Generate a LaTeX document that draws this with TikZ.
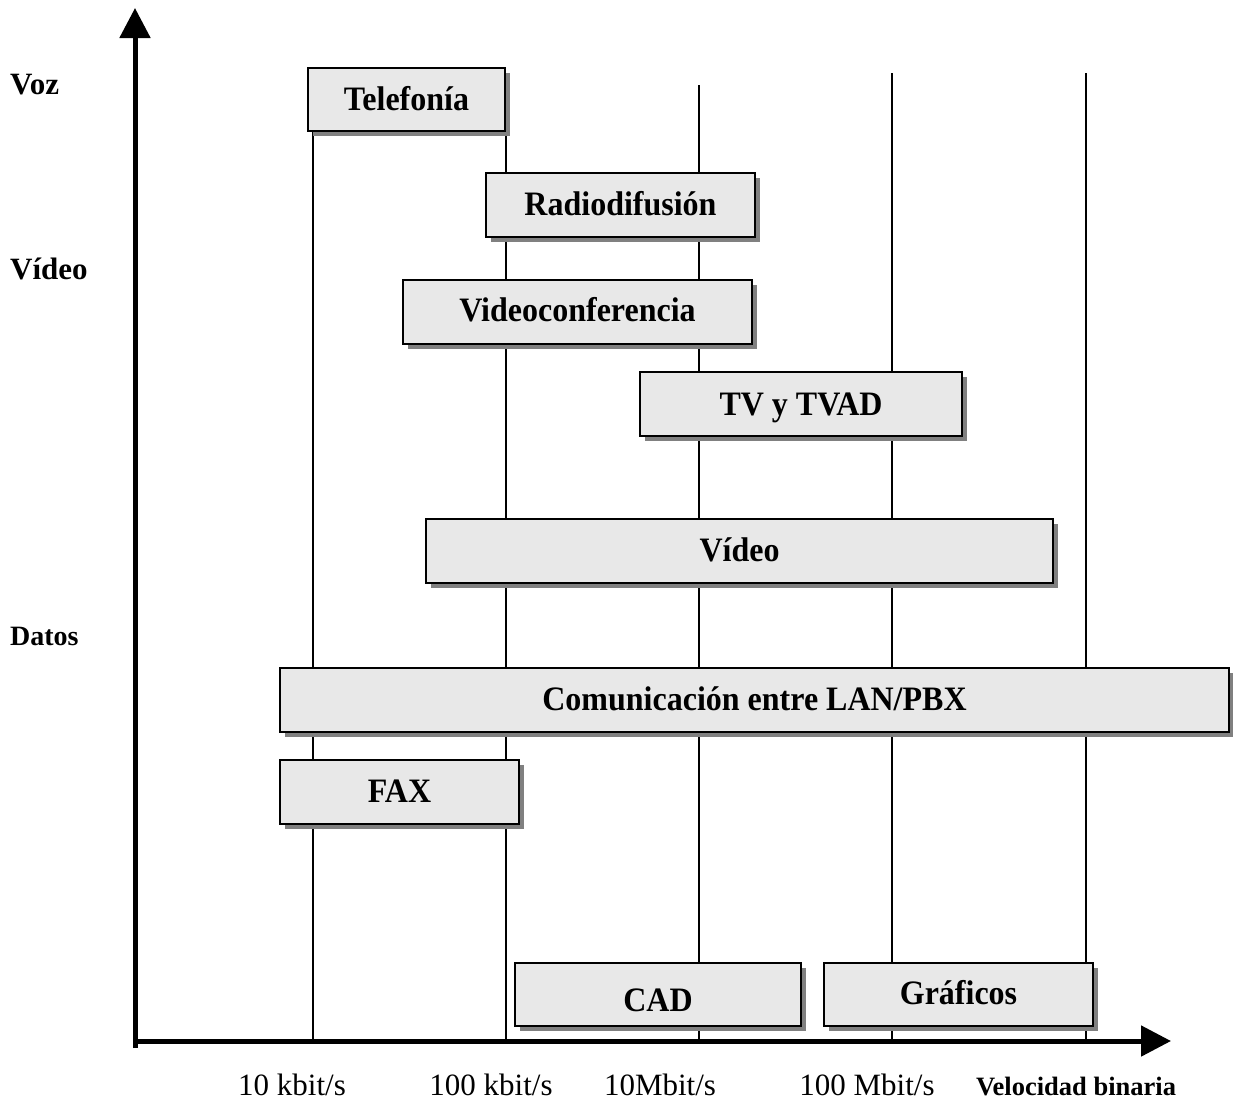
\documentclass[tikz,border=0pt]{standalone}
\usepackage{fontspec}
\setmainfont{Liberation Serif}
\usetikzlibrary{arrows.meta,shadows}
\definecolor{boxfill}{HTML}{E8E8E8}
\definecolor{shadowgray}{HTML}{808080}
\newcommand\boxtext[1]{\scalebox{1}[1.07]{\fontsize{32}{36}\selectfont\bfseries #1}}
\tikzset{
  grid line/.style={line width=1.5pt, black},
  axis/.style={line width=5pt, -{Triangle[length=30pt,width=30pt]}},
  band/.style={draw=black, line width=2pt, fill=boxfill, inner sep=0pt,
    minimum height=63pt,
    drop shadow={shadow xshift=5pt, shadow yshift=-5pt, opacity=1, fill=shadowgray}},
  bandlabel/.style={inner sep=0pt, anchor=center},
  classlabel/.style={inner sep=0pt, anchor=west, font=\fontsize{31}{36}\selectfont\bfseries},
  ratelabel/.style={inner sep=0pt, anchor=center, font=\fontsize{31}{36}\selectfont}
}
\begin{document}
\begin{tikzpicture}[x=1pt, y=-1pt]
\useasboundingbox (0,0) rectangle (1233,1100);

% decade grid lines
\draw[grid line] (313,90) -- (313,1040);
\draw[grid line] (506,90) -- (506,1040);
\draw[grid line] (699,85) -- (699,1040);
\draw[grid line] (892,73) -- (892,1040);
\draw[grid line] (1086,73) -- (1086,1040);

% axes
\coordinate (origin) at (135,1048);
\coordinate (ytip) at (135,8);
\coordinate (xstart) at (133,1041);
\coordinate (xtip) at (1171,1041);
\draw[axis] (origin) -- (ytip);
\draw[axis] (xstart) -- (xtip);

% service bands
\node[band, minimum width=197pt] (tel) at (406.5,99.5) {};
\node[bandlabel] (tel-t) at (406.5,99) {\boxtext{Telefonía}};

\node[band, minimum width=269pt, minimum height=64pt] (radio) at (620.5,205) {};
\node[bandlabel] (radio-t) at (620.5,204) {\boxtext{Radiodifusión}};

\node[band, minimum width=349pt, minimum height=64pt] (vconf) at (577.5,312) {};
\node[bandlabel] (vconf-t) at (577.5,310) {\boxtext{Videoconferencia}};

\node[band, minimum width=322pt, minimum height=64pt] (tv) at (801,404) {};
\node[bandlabel] (tv-t) at (801,408) {\boxtext{TV y TVAD}};

\node[band, minimum width=627pt, minimum height=64pt] (video) at (739.5,551) {};
\node[bandlabel] (video-t) at (739.5,550) {\boxtext{Vídeo}};

\node[band, minimum width=949pt, minimum height=64pt] (lan) at (754.5,700) {};
\node[bandlabel] (lan-t) at (754.5,699) {\boxtext{Comunicación entre LAN/PBX}};

\node[band, minimum width=239pt, minimum height=64pt] (fax) at (399.5,792) {};
\node[bandlabel] (fax-t) at (399.5,791) {\boxtext{FAX}};

\node[band, minimum width=286pt] (cad) at (658,994.5) {};
\node[bandlabel] (cad-t) at (658,1000) {\boxtext{CAD}};

\node[band, minimum width=269pt] (graf) at (958.5,994.5) {};
\node[bandlabel] (graf-t) at (958.5,993) {\boxtext{Gráficos}};

% traffic classes
\node[classlabel] (voz) at (10,85) {Voz};
\node[classlabel] (vid) at (10,269) {Vídeo};
\node[classlabel, font=\fontsize{28}{32}\selectfont\bfseries] (datos) at (10,636) {Datos};

% bit-rate scale
\node[ratelabel] (r1) at (292,1085) {10 kbit/s};
\node[ratelabel] (r2) at (491,1085) {100 kbit/s};
\node[ratelabel] (r3) at (660,1085) {10Mbit/s};
\node[ratelabel] (r4) at (867,1085) {100 Mbit/s};
\node[ratelabel, font=\fontsize{26.5}{30}\selectfont\bfseries] (vb) at (1076,1086) {Velocidad binaria};
\end{tikzpicture}
\end{document}
